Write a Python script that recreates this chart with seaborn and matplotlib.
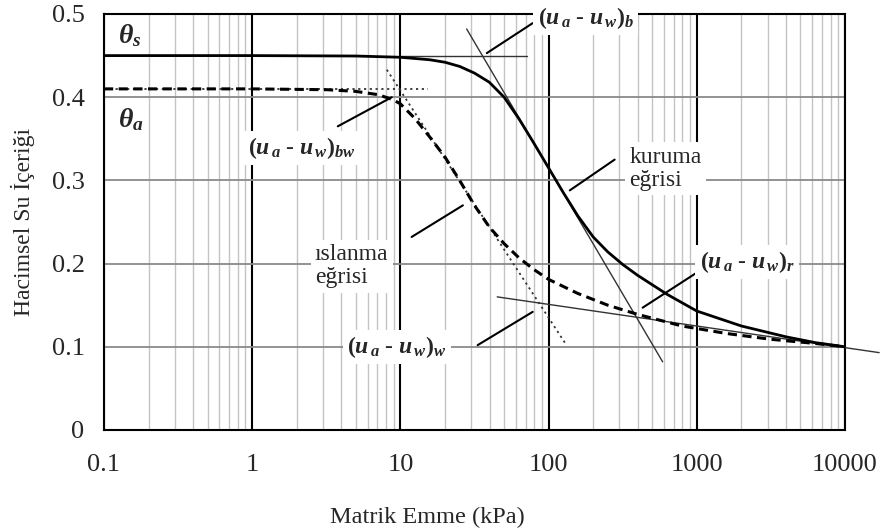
import numpy as np
import pandas as pd
import matplotlib
matplotlib.use("Agg")
import matplotlib.pyplot as plt
import seaborn as sns
from matplotlib.ticker import FixedLocator, LogLocator, NullFormatter

# ---------------- data ----------------
drying_x = [0.1, 1, 5, 10, 15.8, 20, 25.1, 31.6, 39.8, 50.1, 63.1, 79.4, 100, 126, 158,
            200, 251, 316, 398, 631, 1000, 2000, 4000, 6310, 10000]
drying_y = [0.45, 0.45, 0.4495, 0.448, 0.445, 0.442, 0.437, 0.429, 0.418, 0.400, 0.374,
            0.345, 0.315, 0.285, 0.257, 0.232, 0.214, 0.199, 0.186, 0.163, 0.143, 0.125,
            0.112, 0.105, 0.100]

wetting_x = [0.1, 1, 3.2, 5, 7.1, 8.9, 10, 12.6, 15.8, 20, 25.1, 31.6, 39.8, 50.1, 63.1,
             79.4, 100, 158, 251, 398, 794, 1585, 3162, 6310, 10000]
wetting_y = [0.41, 0.41, 0.409, 0.407, 0.403, 0.397, 0.392, 0.374, 0.352, 0.328, 0.300,
             0.270, 0.244, 0.224, 0.207, 0.193, 0.181, 0.164, 0.150, 0.139, 0.125, 0.116,
             0.109, 0.104, 0.100]

# construction (tangent) lines
tan_dry_flat_x, tan_dry_flat_y = [10, 72], [0.45, 0.45]
tan_dry_steep_x, tan_dry_steep_y = [28, 588], [0.482, 0.082]
tan_res_x, tan_res_y = [45, 17000], [0.16, 0.093]
tan_wet_flat_x, tan_wet_flat_y = [0.1, 15.3], [0.41, 0.41]
tan_wet_steep_x, tan_wet_steep_y = [8.1, 132], [0.433, 0.102]

x_ticks = [0.1, 1, 10, 100, 1000, 10000]
x_ticklabels = ["0.1", "1", "10", "100", "1000", "10000"]
y_ticks = [0, 0.1, 0.2, 0.3, 0.4, 0.5]
y_ticklabels = ["0", "0.1", "0.2", "0.3", "0.4", "0.5"]

x_label = "Matrik Emme (kPa)"
y_label = "Hacimsel Su İçeriği"

# annotation texts and their anchor / pointer coordinates (data units)
labels = [
    (r"$\theta_{s}$", 0.124, 0.474, None),
    (r"$\theta_{a}$", 0.124, 0.373, None),
    (r"$(u_{\,a}$ - $u_{\,w})_{bw}$", 0.935, 0.339, ((3.78, 0.365), (8.75, 0.40))),
    (r"$(u_{\,a}$ - $u_{\,w})_{b}$", 84.4, 0.495, ((78.1, 0.489), (38.3, 0.453))),
    ("kuruma\neğrisi", 352, 0.314, ((279, 0.325), (139, 0.288))),
    ("ıslanma\neğrisi", 2.65, 0.197, ((11.9, 0.232), (26.4, 0.27))),
    (r"$(u_{\,a}$ - $u_{\,w})_{w}$", 4.35, 0.100, ((33.2, 0.102), (78.1, 0.142))),
    (r"$(u_{\,a}$ - $u_{\,w})_{r}$", 1045, 0.202, ((997, 0.189), (431, 0.147))),
]

# ---------------- style ----------------
sns.set_style("white")
plt.rcParams["font.family"] = ["Liberation Serif", "DejaVu Serif"]
plt.rcParams["mathtext.fontset"] = "custom"
plt.rcParams["mathtext.it"] = "Liberation Serif:italic:bold"
plt.rcParams["mathtext.rm"] = "Liberation Serif:bold"
plt.rcParams["mathtext.bf"] = "Liberation Serif:bold"

fig = plt.figure(figsize=(8.82, 5.30), dpi=100)
ax = fig.add_axes([104 / 882, 1 - 430 / 530, 741 / 882, 416 / 530])
ax.set_xscale("log")
ax.set_xlim(0.1, 10000)
ax.set_ylim(0, 0.5)

# grid
ax.xaxis.set_minor_locator(LogLocator(base=10, subs=np.arange(2, 10)))
ax.xaxis.set_minor_formatter(NullFormatter())
ax.grid(True, which="minor", axis="x", color="#c4c4c4", lw=1.0, zorder=0)
ax.grid(True, which="major", axis="y", color="#8a8a8a", lw=1.3, zorder=0)
ax.grid(True, which="major", axis="x", color="black", lw=1.5, zorder=0)
ax.set_axisbelow(True)

for s in ax.spines.values():
    s.set_color("black")
    s.set_linewidth(1.5)
    s.set_visible(True)

# curves
df_dry = pd.DataFrame({"x": drying_x, "y": drying_y})
df_wet = pd.DataFrame({"x": wetting_x, "y": wetting_y})
sns.lineplot(data=df_dry, x="x", y="y", ax=ax, color="black", lw=2.0, legend=False, zorder=4)
sns.lineplot(data=df_wet, x="x", y="y", ax=ax, color="black", lw=2.2,
             ls=(0, (3.0, 1.8)), legend=False, zorder=4)

# tangent lines
def seg(xs, ys, **kw):
    sns.lineplot(x=xs, y=ys, ax=ax, legend=False, **kw)

seg(tan_dry_flat_x, tan_dry_flat_y, color="#333333", lw=1.0, zorder=3)
seg(tan_dry_steep_x, tan_dry_steep_y, color="#333333", lw=1.0, zorder=3)
seg(tan_res_x, tan_res_y, color="#333333", lw=1.0, zorder=3, clip_on=False)
seg(tan_wet_flat_x, tan_wet_flat_y, color="#333333", lw=1.3, ls=(0, (1.2, 2.0)), zorder=3)
seg(tan_wet_steep_x, tan_wet_steep_y, color="#333333", lw=1.3, ls=(0, (1.2, 2.0)), zorder=3)

# annotations
for txt, tx, ty, ptr in labels:
    big = txt.startswith(r"$\theta")
    ax.text(tx, ty, txt, ha="left", va="center", fontsize=20 if big else 17,
            linespacing=1.15, zorder=6,
            bbox=None if big else dict(fc="white", ec="none", pad=3))
    if ptr is not None:
        (x0, y0), (x1, y1) = ptr
        seg([x0, x1], [y0, y1], color="black", lw=1.5, zorder=5)

# ticks & labels
ax.xaxis.set_major_locator(FixedLocator(x_ticks))
ax.set_xticklabels(x_ticklabels)
ax.set_yticks(y_ticks)
ax.set_yticklabels(y_ticklabels)
ax.tick_params(axis="both", which="major", labelsize=19, color="black",
               length=5, width=1.2, direction="out")
ax.tick_params(axis="x", which="major", pad=12)
ax.tick_params(axis="y", which="major", pad=9)
ax.tick_params(axis="x", which="minor", length=0)

ax.set_xlabel(x_label, fontsize=17.5)
ax.set_ylabel(y_label, fontsize=17)
ax.xaxis.set_label_coords(0.436, -0.185)
ax.yaxis.set_label_coords(-0.093, 0.5)

fig.savefig("out.png", dpi=100)
